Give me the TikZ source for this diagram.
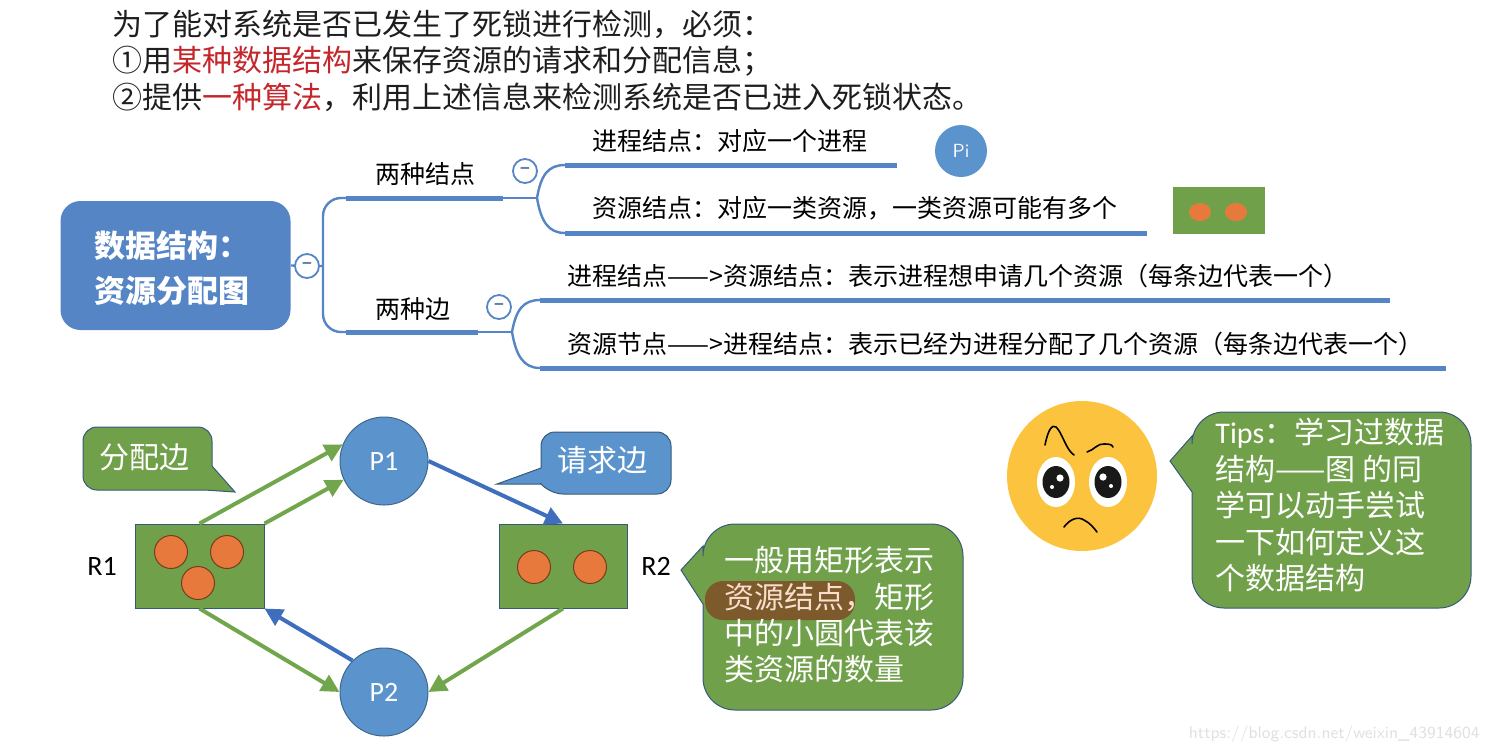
\documentclass[tikz,border=0pt]{standalone}
\usepackage{fontspec}
\setmainfont{Noto Sans CJK SC}
\newfontfamily\latinfont{Carlito}
\usetikzlibrary{arrows.meta,shapes.geometric}
\definecolor{mapblue}{HTML}{5585C5}
\definecolor{resgreen}{HTML}{70A04A}
\definecolor{edgegreen}{HTML}{72A64C}
\definecolor{edgeblue}{HTML}{3F6FBC}
\definecolor{procblue}{HTML}{5B94CC}
\definecolor{dotorange}{HTML}{E8793C}
\definecolor{faceyellow}{HTML}{FCC33E}
\definecolor{redword}{HTML}{C4262B}
\definecolor{inktxt}{HTML}{1E1E1E}
\tikzset{
 headtxt/.style={anchor=west,inner sep=0pt,text=inktxt,font=\fontsize{15}{18}\selectfont},
 maptxt/.style={anchor=west,inner sep=0pt,text=black,font=\fontsize{12.5}{15}\selectfont},
 thickbar/.style={draw=mapblue,line width=2.5pt},
 thinbar/.style={draw=mapblue,line width=1.2pt},
 foldmark/.style={circle,draw=mapblue,fill=white,line width=0.9pt,minimum size=12pt,inner sep=0pt,text=mapblue!70!gray,font=\fontsize{8}{8}\selectfont\bfseries},
 procnode/.style={circle,draw=procblue!70!black,fill=procblue,line width=0.5pt,minimum size=44pt,inner sep=0pt,text=white,font=\latinfont\fontsize{14}{14}\selectfont},
 resnode/.style={rectangle,draw=procblue!60!black,fill=resgreen,line width=0.5pt,inner sep=0pt},
 resdot/.style={circle,draw=black!50!dotorange,fill=dotorange,line width=0.5pt,minimum size=16.5pt,inner sep=0pt},
 reslabel/.style={inner sep=0pt,text=black,font=\latinfont\fontsize{14}{14}\selectfont},
 givearrow/.style={draw=edgegreen,line width=2pt,-{Triangle[length=9pt,width=9pt]}},
 askarrow/.style={draw=edgeblue,line width=2pt,-{Triangle[length=9pt,width=9pt]}},
 calloutpath/.style={draw=procblue!60!black,line width=0.5pt},
 callouttxt/.style={anchor=north west,align=left,inner sep=0pt,text=white,font=\fontsize{15}{18.2}\selectfont},
}
\begin{document}
\begin{tikzpicture}[x=0.5pt,y=-0.5pt]
 \useasboundingbox (0,0) rectangle (1488,752);
 % heading lines
 \node[headtxt] (line1) at (112,24) {为了能对系统是否已发生了死锁进行检测，必须：};
 \node[headtxt] (line2) at (112,61) {①用\textcolor{redword}{某种数据结构}来保存资源的请求和分配信息；};
 \node[headtxt] (line3) at (112,97) {②提供\textcolor{redword}{一种算法}，利用上述信息来检测系统是否已进入死锁状态。};
 % mind map
 \node[rectangle,rounded corners=10pt,fill=mapblue,minimum width=115pt,minimum height=64.5pt] (root) at (175.5,265.5) {};
 \node[anchor=west,align=left,inner sep=0pt,text=white,font=\fontsize{15.5}{22.5}\selectfont\bfseries] (roottxt) at (94,268) {数据结构：\\资源分配图};
 \coordinate (fork) at (323,266);
 \coordinate (kinds1a) at (346,198);
 \coordinate (kinds1b) at (503,198);
 \coordinate (kinds2a) at (346,332);
 \coordinate (kinds2b) at (478,332);
 \coordinate (fork1) at (537,198);
 \coordinate (fork2) at (512,332);
 \coordinate (leaf1a) at (565,165);
 \coordinate (leaf1b) at (897,165);
 \coordinate (leaf2a) at (565,233);
 \coordinate (leaf2b) at (1147,233);
 \coordinate (leaf3a) at (540,300);
 \coordinate (leaf3b) at (1390,300);
 \coordinate (leaf4a) at (540,368);
 \coordinate (leaf4b) at (1446,368);
 \draw[thinbar] (root.east) -- (fork);
 \draw[thinbar,rounded corners=9pt] (kinds1a) -- (fork |- kinds1a) -- (fork |- kinds2a) -- (kinds2a);
 \draw[thinbar] (kinds1b) -- (fork1);
 \draw[thinbar] (kinds2b) -- (fork2);
 \draw[thinbar] (fork1) .. controls (541,175) and (548,165) .. (leaf1a);
 \draw[thinbar] (fork1) .. controls (541,221) and (548,233) .. (leaf2a);
 \draw[thinbar] (fork2) .. controls (516,310) and (523,300) .. (leaf3a);
 \draw[thinbar] (fork2) .. controls (516,355) and (523,368) .. (leaf4a);
 \draw[thickbar] (kinds1a) -- (kinds1b);
 \draw[thickbar] (kinds2a) -- (kinds2b);
 \draw[thickbar] (leaf1a) -- (leaf1b);
 \draw[thickbar] (leaf2a) -- (leaf2b);
 \draw[thickbar] (leaf3a) -- (leaf3b);
 \draw[thickbar] (leaf4a) -- (leaf4b);
 \node[foldmark] (fold0) at (307,266) {−};
 \node[foldmark] (fold1) at (525,171) {−};
 \node[foldmark] (fold2) at (499,307) {−};
 \node[maptxt] (kinds1) at (375,174) {两种结点};
 \node[maptxt] (kinds2) at (375,309) {两种边};
 \node[maptxt] (leaf1) at (592,141) {进程结点：对应一个进程};
 \node[maptxt] (leaf2) at (592,208) {资源结点：对应一类资源，一类资源可能有多个};
 \node[maptxt] (leaf3) at (567,276) {进程结点——>资源结点：表示进程想申请几个资源（每条边代表一个）};
 \node[maptxt] (leaf4) at (567,344) {资源节点——>进程结点：表示已经为进程分配了几个资源（每条边代表一个）};
 \node[circle,fill=procblue,minimum size=26pt,inner sep=0pt,text=white,font=\sffamily\fontsize{9.5}{9.5}\selectfont] (legendP) at (961,151) {Pi};
 \node[rectangle,fill=resgreen,minimum width=46pt,minimum height=23.5pt,inner sep=0pt] (legendR) at (1219,210.5) {};
 \node[ellipse,fill=dotorange,minimum width=11pt,minimum height=9pt,inner sep=0pt] (legendR1) at (1200,212) {};
 \node[ellipse,fill=dotorange,minimum width=11pt,minimum height=9pt,inner sep=0pt] (legendR2) at (1236,212) {};
 % resource allocation graph
 \node[procnode] (P1) at (384,461) {P1};
 \node[procnode] (P2) at (384,692) {P2};
 \node[resnode,minimum width=64.5pt,minimum height=42pt] (R1) at (199.5,566) {};
 \node[resnode,minimum width=64pt,minimum height=42pt] (R2) at (563,566) {};
 \node[resdot] (R1a) at (171,552) {};
 \node[resdot] (R1b) at (227,552) {};
 \node[resdot] (R1c) at (198,583) {};
 \node[resdot] (R2a) at (534,567) {};
 \node[resdot] (R2b) at (590,567) {};
 \node[reslabel] (R1name) at (102,566) {R1};
 \node[reslabel] (R2name) at (656,566) {R2};
 \draw[givearrow] (R1.north) -- (P1.158);
 \draw[givearrow] (R1.north east) -- (P1.205);
 \draw[askarrow] (P1.east) -- (R2.north);
 \draw[givearrow] (R1.south) -- (P2.west);
 \draw[askarrow] (P2.135) -- (R1.south east);
 \draw[givearrow] (R2.south) -- (P2.east);
 % callouts
 \draw[calloutpath,fill=resgreen,rounded corners=7pt] (83,427) -- (212,427) [sharp corners] -- (212,466) -- (235,492) -- (205,490) [rounded corners=7pt] -- (83,490) -- cycle;
 \node[anchor=west,inner sep=0pt,text=white,font=\fontsize{15}{18}\selectfont] (givetxt) at (99,457) {分配边};
 \draw[calloutpath,fill=procblue,rounded corners=7pt] (671,432) -- (671,494) -- (549,494) [sharp corners] -- (541,484) -- (497,484) -- (541,468) [rounded corners=7pt] -- (541,432) -- cycle;
 \node[anchor=west,inner sep=0pt,text=white,font=\fontsize{15}{18}\selectfont] (asktxt) at (557,460) {请求边};
 \draw[calloutpath,fill=resgreen,rounded corners=16pt] (963,524) -- (963,710) -- (703,710) [sharp corners] -- (703,604) -- (681,570) -- (703,546) [rounded corners=16pt] -- (703,524) -- cycle;
 \fill[fill=black!45!dotorange!75!resgreen,rounded corners=9pt] (705,581) rectangle (855,620);
 \node[callouttxt] (restxt) at (724,546) {一般用矩形表示\\\textcolor{dotorange!25!white}{资源结点，}矩形\\中的小圆代表该\\类资源的数量};
 \node[circle,fill=faceyellow,minimum size=75pt,inner sep=0pt] (face) at (1082,476) {};
 \node[ellipse,fill=white,minimum width=19pt,minimum height=25pt,inner sep=0pt] (eyeL) at (1056,482) {};
 \node[ellipse,fill=white,minimum width=19pt,minimum height=25pt,inner sep=0pt] (eyeR) at (1108,482) {};
 \node[ellipse,fill=black!90,minimum width=13.5pt,minimum height=16pt,inner sep=0pt] (pupilL) at (1056,482) {};
 \node[ellipse,fill=black!90,minimum width=13.5pt,minimum height=16pt,inner sep=0pt] (pupilR) at (1108,482) {};
 \fill[white] (1060,478) circle (1.8pt) (1052,487) circle (1pt) (1103,477) circle (1.8pt) (1111,486) circle (1pt);
 \draw[black,line width=0.8pt,line cap=round] (1045,445) .. controls (1048,430) and (1052,424) .. (1056,427) .. controls (1062,432) and (1066,450) .. (1074,455);
 \draw[black,line width=0.8pt,line cap=round] (1087,452) .. controls (1094,450) and (1098,443) .. (1104,444) .. controls (1108,444) and (1112,444) .. (1113,447);
 \draw[black,line width=0.8pt,line cap=round] (1064,527) .. controls (1070,519) and (1078,516) .. (1084,520) .. controls (1090,523) and (1094,528) .. (1097,532);
 \draw[calloutpath,fill=resgreen,rounded corners=16pt] (1471,412) -- (1471,608) -- (1192,608) [sharp corners] -- (1192,492) -- (1170,461) -- (1192,436) [rounded corners=16pt] -- (1192,412) -- cycle;
 \node[callouttxt] (tipstxt) at (1215,418) {{\latinfont Tips}：学习过数据\\结构——图 的同\\学可以动手尝试\\一下如何定义这\\个数据结构};
 \node[anchor=east,inner sep=0pt,text=black!12,font=\sffamily\fontsize{8.5}{8.5}\selectfont] (mark) at (1480,734) {https://blog.csdn.net/weixin\_43914604};
\end{tikzpicture}
\end{document}
